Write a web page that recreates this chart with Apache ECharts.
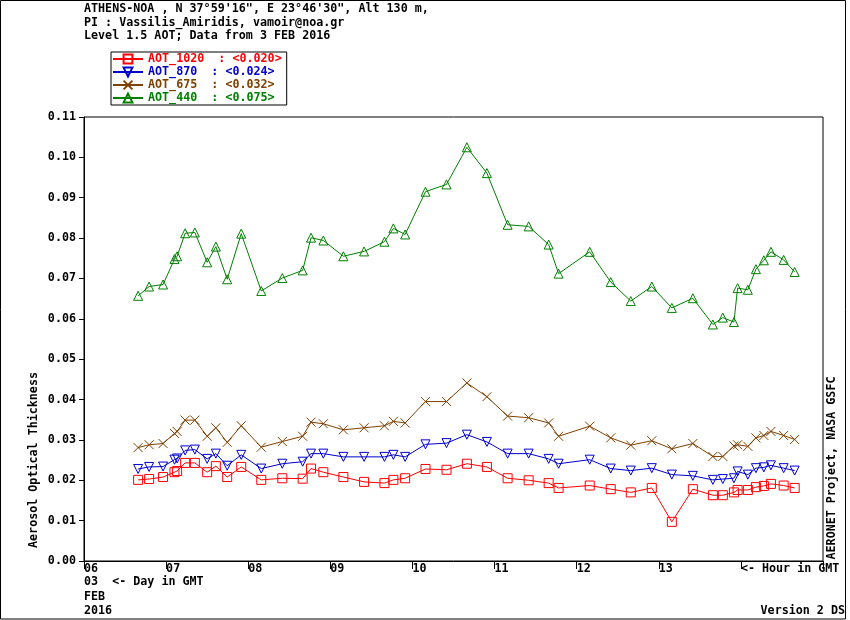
<!DOCTYPE html>
<html>
<head>
<meta charset="utf-8">
<script src="https://cdn.jsdelivr.net/npm/echarts@6/dist/echarts.min.js"></script>
<style>
html,body{margin:0;padding:0;background:#fff;}
#main{width:850px;height:620px;}
</style>
</head>
<body>
<div id="main"></div>
<script>
// hours (GMT) of each measurement, 3 FEB 2016
var hours = [6.659, 6.793, 6.963, 7.102, 7.134, 7.232, 7.350, 7.500, 7.606, 7.744,
	7.915, 8.159, 8.415, 8.663, 8.765, 8.915, 9.159, 9.411, 9.659, 9.768,
	9.911, 10.159, 10.415, 10.663, 10.907, 11.159, 11.415, 11.659, 11.780, 12.159,
	12.415, 12.659, 12.915, 13.159, 13.415, 13.659, 13.780, 13.915, 13.960, 14.085,
	14.183, 14.280, 14.366, 14.521, 14.655];
var aot1020 = [0.0201, 0.0203, 0.0208, 0.0220, 0.0223, 0.0243, 0.0243, 0.0220, 0.0235, 0.0208,
	0.0233, 0.0201, 0.0205, 0.0204, 0.0229, 0.0220, 0.0208, 0.0196, 0.0193, 0.0201,
	0.0205, 0.0228, 0.0226, 0.0241, 0.0233, 0.0205, 0.0200, 0.0193, 0.0181, 0.0187,
	0.0178, 0.0170, 0.0181, 0.0097, 0.0178, 0.0163, 0.0163, 0.0170, 0.0176, 0.0176,
	0.0183, 0.0186, 0.0191, 0.0187, 0.0181];
var aot870 = [0.0228, 0.0233, 0.0234, 0.0251, 0.0254, 0.0274, 0.0276, 0.0253, 0.0266, 0.0236,
	0.0263, 0.0229, 0.0241, 0.0246, 0.0266, 0.0266, 0.0258, 0.0258, 0.0258, 0.0263,
	0.0258, 0.0289, 0.0292, 0.0313, 0.0295, 0.0266, 0.0266, 0.0253, 0.0241, 0.0251,
	0.0229, 0.0224, 0.0230, 0.0214, 0.0211, 0.0201, 0.0203, 0.0205, 0.0222, 0.0214,
	0.0230, 0.0232, 0.0237, 0.0230, 0.0224];
var aot675 = [0.0281, 0.0288, 0.0291, 0.0316, 0.0321, 0.0349, 0.0349, 0.0309, 0.0330, 0.0294,
	0.0335, 0.0282, 0.0296, 0.0309, 0.0344, 0.0340, 0.0325, 0.0330, 0.0335, 0.0346,
	0.0342, 0.0395, 0.0395, 0.0441, 0.0407, 0.0359, 0.0355, 0.0342, 0.0309, 0.0334,
	0.0305, 0.0287, 0.0298, 0.0278, 0.0291, 0.0259, 0.0259, 0.0285, 0.0288, 0.0284,
	0.0305, 0.0311, 0.0321, 0.0311, 0.0301];
var aot440 = [0.0657, 0.0680, 0.0685, 0.0748, 0.0755, 0.0812, 0.0814, 0.0740, 0.0779, 0.0698,
	0.0811, 0.0669, 0.0701, 0.0720, 0.0801, 0.0794, 0.0755, 0.0767, 0.0791, 0.0824,
	0.0809, 0.0915, 0.0933, 0.1025, 0.0961, 0.0833, 0.0829, 0.0784, 0.0712, 0.0766,
	0.0691, 0.0644, 0.0680, 0.0627, 0.0651, 0.0586, 0.0603, 0.0592, 0.0676, 0.0672,
	0.0723, 0.0745, 0.0766, 0.0746, 0.0716];

var names = ['AOT_1020', 'AOT_870', 'AOT_675', 'AOT_440'];
var means = ['0.020', '0.024', '0.032', '0.075'];
var colors = ['#ff0000', '#0000cc', '#804000', '#008000'];
var symbols = ['rect', 'path://M0,0L10,0L5,10Z', 'path://M0,0L10,10M10,0L0,10', 'triangle'];
var values = [aot1020, aot870, aot675, aot440];

var font = 'DejaVu Sans Mono';
var fsize = 11.7;

function pairs(v){
	var out = [];
	for (var i = 0; i < hours.length; i++){
		out.push([hours[i], v[i]]);
	}
	return out;
}

var series = [];
var legendData = [];
for (var k = 0; k < names.length; k++){
	series.push({
		name: names[k],
		type: 'line',
		data: pairs(values[k]),
		symbol: symbols[k],
		symbolSize: 9,
		showAllSymbol: true,
		lineStyle: {color: colors[k], width: 1},
		itemStyle: {color: 'rgba(0,0,0,0)', borderColor: colors[k], borderWidth: 1},
		emphasis: {disabled: true}
	});
	legendData.push({name: names[k], textStyle: {color: colors[k]}});
}

function txt(s, x, y, opt){
	var st = {text: s, font: 'bold ' + fsize + 'px "' + font + '"', fill: '#000', textVerticalAlign: 'middle'};
	for (var p in opt){ st[p] = opt[p]; }
	return {type: 'text', x: x, y: y, style: st};
}

var myChart = echarts.init(document.getElementById('main'));
var option = {
	animation: false,
	backgroundColor: '#fff',
	grid: {left: 84, right: 27, top: 117, bottom: 59, show: true, borderColor: '#000', borderWidth: 1},
	legend: {
		orient: 'vertical',
		left: 111,
		top: 52,
		itemWidth: 30,
		itemHeight: 11,
		itemGap: 1,
		padding: [1, 5, 1, 1],
		borderColor: '#000',
		borderWidth: 1,
		selectedMode: false,
		textStyle: {fontFamily: font, fontWeight: 'bold', fontSize: fsize, lineHeight: 12},
		formatter: function(name){
			var i = names.indexOf(name);
			return name + '  : <' + means[i] + '>';
		},
		data: legendData
	},
	xAxis: {
		type: 'value',
		min: 6,
		max: 15,
		interval: 1,
		splitLine: {show: false},
		axisLine: {lineStyle: {color: '#000', width: 1}},
		axisTick: {length: 8, lineStyle: {color: '#000'}},
		axisLabel: {
			color: '#000', fontFamily: font, fontWeight: 'bold', fontSize: fsize,
			align: 'left', margin: 2, showMaxLabel: true,
			formatter: function(v){
				if (v <= 13) return (v < 10 ? '0' : '') + v;
				if (v == 14) return '<- Hour in GMT';
				return '';
			}
		}
	},
	yAxis: {
		type: 'value',
		min: 0,
		max: 0.11,
		interval: 0.01,
		splitLine: {show: false},
		axisLine: {show: true, lineStyle: {color: '#000', width: 1}},
		axisTick: {show: true, length: 5, lineStyle: {color: '#000'}},
		axisLabel: {
			color: '#000', fontFamily: font, fontWeight: 'bold', fontSize: fsize, margin: 8,
			formatter: function(v){ return v.toFixed(2); }
		}
	},
	graphic: [
		{type: 'rect', shape: {x: 0.5, y: 0.5, width: 845, height: 618.5}, style: {fill: 'none', stroke: '#000', lineWidth: 1}, silent: true},
		txt('ATHENS-NOA , N 37\u00b059\'16", E 23\u00b046\'30", Alt 130 m,', 84, 9),
		txt('PI : Vassilis_Amiridis, vamoir@noa.gr', 84, 23),
		txt('Level 1.5 AOT; Data from 3 FEB 2016', 84, 36),
		txt('03  <- Day in GMT', 84, 582),
		txt('FEB', 84, 597),
		txt('2016', 84, 611),
		txt('Version 2 DS', 845, 611, {textAlign: 'right'}),
		{type: 'text', x: 34, y: 460, rotation: Math.PI / 2,
			style: {text: 'Aerosol Optical Thickness', font: 'bold ' + fsize + 'px "' + font + '"', fill: '#000', textAlign: 'center', textVerticalAlign: 'middle'}},
		{type: 'text', x: 832, y: 468, rotation: Math.PI / 2,
			style: {text: 'AERONET Project, NASA GSFC', font: 'bold ' + fsize + 'px "' + font + '"', fill: '#000', textAlign: 'center', textVerticalAlign: 'middle'}}
	],
	series: series
};
myChart.setOption(option);
</script>
</body>
</html>
